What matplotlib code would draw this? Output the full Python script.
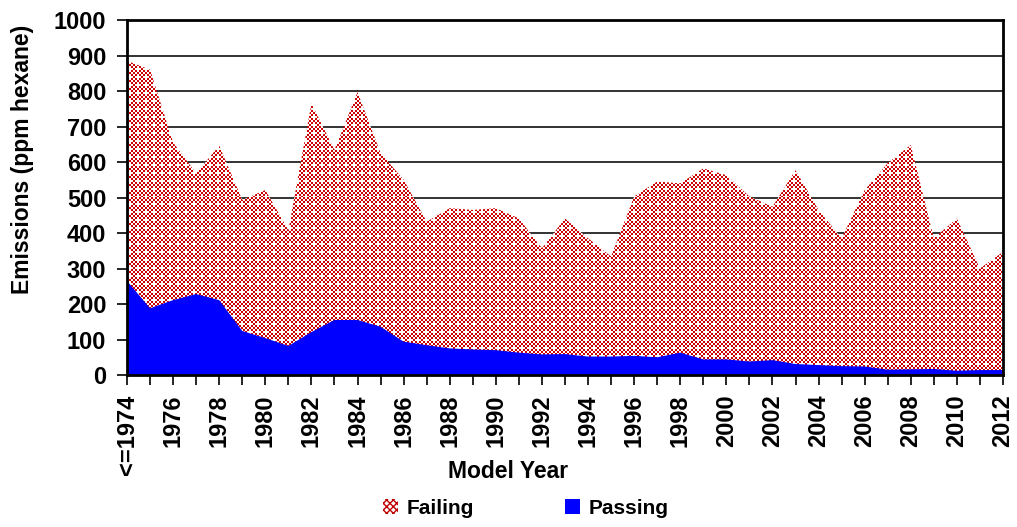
import numpy as np
import matplotlib.pyplot as plt
from matplotlib.patches import Patch

plt.rcParams['font.family'] = ['Liberation Sans', 'DejaVu Sans']
plt.rcParams['font.weight'] = 'bold'

years = list(range(1974, 2013))
failing = [885, 860, 655, 568, 646, 493, 521, 408, 765, 634, 797, 625, 550,
           432, 470, 465, 470, 441, 357, 441, 385, 334, 503, 545, 540,
           582, 563, 503, 474, 577, 465, 385, 521, 597, 648, 385, 441, 300, 347]
passing = [265, 188, 211, 228, 211, 124, 104, 82, 121, 155, 155, 136, 94,
           84, 75, 72, 70, 63, 58, 59, 52, 52, 54, 50, 63,
           44, 44, 38, 42, 31, 28, 25, 24, 15, 16, 17, 12, 14, 14]
tick_labels = ['<=1974'] + [str(y) for y in range(1976, 2013, 2)]

fig = plt.figure(figsize=(10.17, 5.27), dpi=100)
ax = fig.add_axes([0.1249, 0.2884, 0.8613, 0.6736])

x = np.array(years)
# failing area: checkered red pattern clipped to the polygon
poly = ax.fill_between(x, 0, failing, facecolor='none', edgecolor='none', zorder=2)
ny, nx = 178, 438
ii, jj = np.meshgrid(np.arange(ny), np.arange(nx), indexing='ij')
red = ((ii + jj) % 2 == 1) & ~((ii % 4 == 0) & (jj % 4 == 1))
img = np.ones((ny, nx, 3))
img[red] = [0.80, 0.0, 0.0]
im = ax.imshow(img, extent=[1974, 2012, 0, 1000], aspect='auto',
               interpolation='nearest', zorder=2)
im.set_clip_path(poly.get_paths()[0], transform=ax.transData)

ax.fill_between(x, 0, passing, facecolor='#0000FF', edgecolor='none', zorder=3)

ax.set_xlim(1974, 2012)
ax.set_ylim(0, 1000)
ax.set_yticks(range(0, 1001, 100))
ax.yaxis.grid(True, color='#222222', linewidth=1.3)
ax.set_axisbelow(True)

ax.set_xticks(range(1974, 2013, 2))
ax.set_xticklabels(tick_labels, rotation=90)
ax.set_xticks(years, minor=True)
ax.tick_params(axis='x', which='both', direction='out', length=7, width=1.2, pad=7)
ax.tick_params(axis='y', direction='out', length=7, width=1.2, pad=8)
ax.tick_params(labelsize=17)

for s in ax.spines.values():
    s.set_linewidth(2)
    s.set_zorder(5)

ax.set_ylabel('Emissions (ppm hexane)', fontsize=16.5, fontweight='bold')
ax.yaxis.set_label_coords(-0.106, 0.608)
ax.set_xlabel('Model Year', fontsize=16.5, fontweight='bold')
ax.xaxis.set_label_coords(0.435, -0.24)

handles = [Patch(facecolor='white', edgecolor='#C00000', hatch='xxxxx', linewidth=0),
           Patch(facecolor='#0000FF', edgecolor='none')]
fig.legend(handles, ['Failing', 'Passing'], loc='center', bbox_to_anchor=(0.517, 0.036),
           ncol=2, frameon=False, fontsize=15, handlelength=0.7, handleheight=0.7,
           columnspacing=4.4, handletextpad=0.4)

fig.savefig('out.png', dpi=100)
